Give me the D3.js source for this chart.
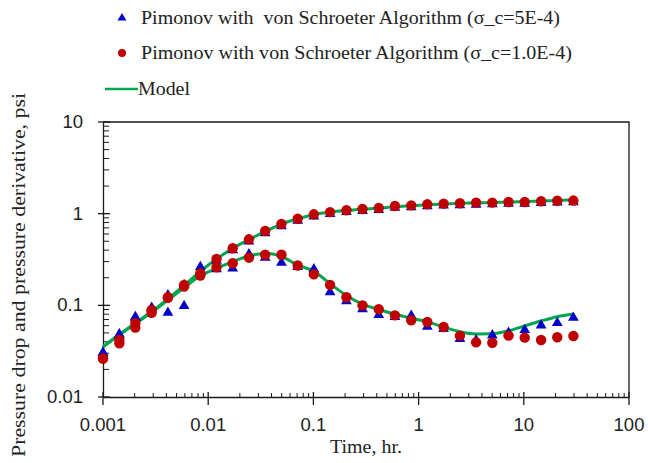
<!DOCTYPE html>
<html>
<head>
<meta charset="utf-8">
<script src="https://cdn.jsdelivr.net/npm/d3@7"></script>
<style>
  html, body { margin: 0; padding: 0; background: #fff; }
  svg { display: block; font-family: "Liberation Serif", "DejaVu Serif", serif; }
</style>
</head>
<body>
<svg id="chart" width="648" height="463"></svg>
<script>
// Time (hr) of each computed point
const times = [0.001, 0.00143, 0.00203, 0.0029, 0.00414, 0.0059, 0.00842, 0.012, 0.0171, 0.0244,
  0.0348, 0.0497, 0.0709, 0.101, 0.144, 0.206, 0.293, 0.418, 0.596, 0.851,
  1.21, 1.73, 2.47, 3.52, 5.02, 7.16, 10.2, 14.6, 20.8, 29.6];

// Pimonov with von Schroeter, sigma_c = 5E-4 (blue triangles)
const blueDrop = [0.0312, 0.0495, 0.0765, 0.0966, 0.132, 0.171, 0.234, 0.315, 0.41, 0.51,
  0.63, 0.75, 0.86, 0.96, 1.02, 1.07, 1.10, 1.13, 1.19, 1.21,
  1.24, 1.26, 1.27, 1.29, 1.30, 1.32, 1.32, 1.34, 1.36, 1.37];
const blueDeriv = [0.031, 0.049, 0.075, 0.095, 0.0853, 0.101, 0.269, 0.255, 0.259, 0.37,
  0.34, 0.30, 0.27, 0.254, 0.143, 0.114, 0.093, 0.0805, 0.0765, 0.079,
  0.060, 0.0566, 0.044, 0.0426, 0.0483, 0.0515, 0.0552, 0.0621, 0.0658, 0.0752];

// Pimonov with von Schroeter, sigma_c = 1.0E-4 (red circles)
const redDrop = [0.0264, 0.0419, 0.0637, 0.089, 0.1225, 0.167, 0.224, 0.321, 0.419, 0.525,
  0.647, 0.771, 0.881, 0.984, 1.04, 1.09, 1.125, 1.153, 1.213, 1.233,
  1.265, 1.285, 1.298, 1.318, 1.32, 1.34, 1.34, 1.365, 1.385, 1.39];
const redDeriv = [0.0262, 0.0385, 0.0571, 0.0831, 0.121, 0.160, 0.211, 0.260, 0.288, 0.331,
  0.356, 0.356, 0.272, 0.218, 0.167, 0.1225, 0.100, 0.0906, 0.0778, 0.0687,
  0.0658, 0.0581, 0.0467, 0.0395, 0.0391, 0.0467, 0.0444, 0.0419, 0.0448, 0.0463];

// Model response (green lines)
const modelDrop = [0.0354, 0.048, 0.064, 0.0855, 0.118, 0.165, 0.235, 0.32, 0.42, 0.52,
  0.64, 0.77, 0.88, 0.975, 1.04, 1.085, 1.12, 1.15, 1.19, 1.22,
  1.25, 1.275, 1.295, 1.31, 1.325, 1.34, 1.355, 1.375, 1.39, 1.42];
const modelDeriv = [0.0352, 0.0475, 0.063, 0.084, 0.114, 0.155, 0.21, 0.253, 0.30, 0.345,
  0.37, 0.34, 0.275, 0.235, 0.172, 0.128, 0.103, 0.09, 0.080, 0.0725,
  0.066, 0.058, 0.0515, 0.0488, 0.049, 0.0527, 0.0596, 0.0675, 0.0752, 0.0805];

const xTicks = [0.001, 0.01, 0.1, 1, 10, 100];
const xTickLabels = ["0.001", "0.01", "0.1", "1", "10", "100"];
const yTicks = [0.01, 0.1, 1, 10];
const yTickLabels = ["0.01", "0.1", "1", "10"];

const legendLabels = [
  "Pimonov with  von Schroeter Algorithm (\u03c3_c=5E-4)",
  "Pimonov with von Schroeter Algorithm (\u03c3_c=1.0E-4)",
  "Model"
];

const BLUE = "#0000c8", RED = "#c00000", GREEN = "#00a64f", AXIS = "#1a1a1a", INK = "#222";

const svg = d3.select("#chart");
const plot = { left: 103, right: 629, top: 122, bottom: 397 };

const x = d3.scaleLog().domain([0.001, 100]).range([plot.left, plot.right]);
const y = d3.scaleLog().domain([0.01, 10]).range([plot.bottom, plot.top]);

// frame (top & right edges)
svg.append("path")
  .attr("d", `M${plot.left},${plot.top}H${plot.right}V${plot.bottom}`)
  .attr("fill", "none").attr("stroke", AXIS).attr("stroke-width", 1.3);

// minor tick values for each decade
function minors(lo, hi) {
  const out = [];
  for (let e = Math.log10(lo); e < Math.log10(hi); e++) {
    for (let k = 2; k <= 9; k++) out.push(k * Math.pow(10, e));
  }
  return out;
}

// x axis: major ticks cross the line, minors point inward
const gx = svg.append("g").attr("transform", `translate(0,${plot.bottom})`);
gx.call(d3.axisBottom(x).tickValues(xTicks).tickSize(0).tickFormat(""));
gx.select(".domain").attr("stroke", AXIS).attr("stroke-width", 1.3);
gx.selectAll(".major").data(xTicks).join("line")
  .attr("x1", d => x(d)).attr("x2", d => x(d)).attr("y1", -5).attr("y2", 8)
  .attr("stroke", AXIS).attr("stroke-width", 1.3);
gx.selectAll(".minor").data(minors(0.001, 100)).join("line")
  .attr("x1", d => x(d)).attr("x2", d => x(d)).attr("y1", -4).attr("y2", 0)
  .attr("stroke", AXIS).attr("stroke-width", 1);
gx.selectAll(".lbl").data(xTicks).join("text")
  .attr("x", d => x(d)).attr("y", 34).attr("text-anchor", "middle")
  .attr("font-size", 18.5).attr("fill", INK)
  .text((d, i) => xTickLabels[i]);

// y axis
const gy = svg.append("g").attr("transform", `translate(${plot.left},0)`);
gy.call(d3.axisLeft(y).tickValues(yTicks).tickSize(0).tickFormat(""));
gy.select(".domain").attr("stroke", AXIS).attr("stroke-width", 1.3);
gy.selectAll(".major").data(yTicks).join("line")
  .attr("x1", -5).attr("x2", 7).attr("y1", d => y(d)).attr("y2", d => y(d))
  .attr("stroke", AXIS).attr("stroke-width", 1.3);
gy.selectAll(".minor").data(minors(0.01, 10)).join("line")
  .attr("x1", 0).attr("x2", 6).attr("y1", d => y(d)).attr("y2", d => y(d))
  .attr("stroke", AXIS).attr("stroke-width", 1);
gy.selectAll(".lbl").data(yTicks).join("text")
  .attr("x", -20).attr("y", d => y(d) + 6).attr("text-anchor", "end")
  .attr("font-size", 18.5).attr("fill", INK)
  .text((d, i) => yTickLabels[i]);

// axis titles
svg.append("text")
  .attr("x", (plot.left + plot.right) / 2).attr("y", 453)
  .attr("text-anchor", "middle").attr("font-size", 19.5).attr("fill", INK)
  .attr("textLength", 72).attr("lengthAdjust", "spacingAndGlyphs")
  .text("Time, hr.");
svg.append("text")
  .attr("transform", "translate(25,275) rotate(-90)")
  .attr("text-anchor", "middle").attr("font-size", 19.5).attr("fill", INK)
  .attr("textLength", 364).attr("lengthAdjust", "spacingAndGlyphs")
  .text("Pressure drop and pressure derivative, psi");

// model curves
const line = d3.line()
  .x((d, i) => x(times[i]))
  .y(d => y(d))
  .curve(d3.curveMonotoneX);
[modelDrop, modelDeriv].forEach(s => {
  svg.append("path").attr("d", line(s))
    .attr("fill", "none").attr("stroke", GREEN).attr("stroke-width", 3);
});

// blue triangles
const tri = d3.symbol().type(d3.symbolTriangle).size(50);
[blueDrop, blueDeriv].forEach(s => {
  svg.append("g").selectAll("path").data(s).join("path")
    .attr("d", tri)
    .attr("transform", (d, i) => `translate(${x(times[i])},${y(d) + 1})`)
    .attr("fill", BLUE);
});

// red circles
[redDrop, redDeriv].forEach(s => {
  svg.append("g").selectAll("circle").data(s).join("circle")
    .attr("cx", (d, i) => x(times[i])).attr("cy", d => y(d)).attr("r", 5.2)
    .attr("fill", RED);
});

// legend
const lg = svg.append("g");
lg.append("path").attr("d", d3.symbol().type(d3.symbolTriangle).size(34)())
  .attr("transform", "translate(122,18)").attr("fill", BLUE);
lg.append("circle").attr("cx", 122).attr("cy", 53).attr("r", 4).attr("fill", RED);
lg.append("line").attr("x1", 105).attr("x2", 138).attr("y1", 89).attr("y2", 89)
  .attr("stroke", GREEN).attr("stroke-width", 2.5);
const legY = [24, 59, 95], legX = [141, 141, 138], legW = [419, 431, 52];
lg.selectAll("text").data(legendLabels).join("text")
  .attr("x", (d, i) => legX[i]).attr("y", (d, i) => legY[i])
  .attr("font-size", 19.5).attr("fill", INK)
  .attr("xml:space", "preserve").style("white-space", "pre")
  .attr("textLength", (d, i) => legW[i]).attr("lengthAdjust", "spacingAndGlyphs")
  .text(d => d);
</script>
</body>
</html>
